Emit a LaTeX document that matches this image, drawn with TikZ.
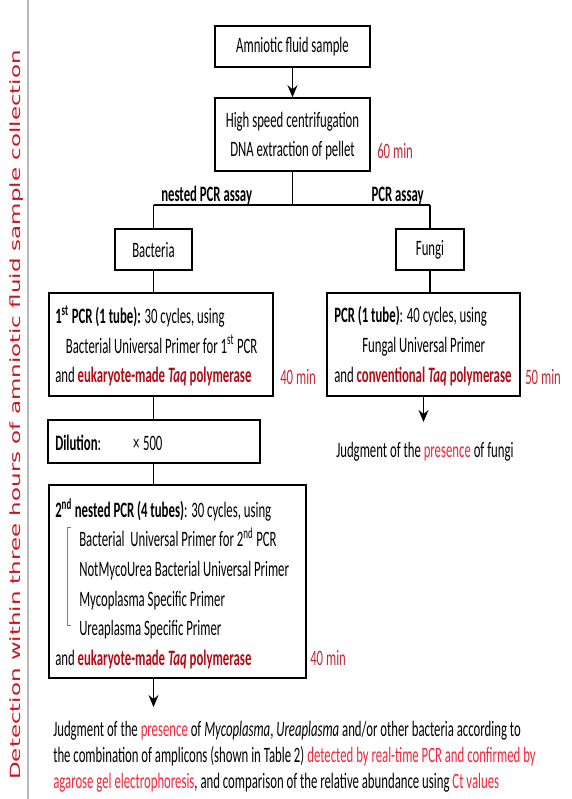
\documentclass[tikz,border=0pt]{standalone}
\usepackage{fontspec}
\setmainfont[FakeStretch=0.58]{Carlito}
\newfontfamily\sidefont{DejaVu Sans}
\usepackage{xcolor}
\definecolor{ColTime}{RGB}{200,40,50}
\definecolor{ColBold}{RGB}{180,10,20}
\definecolor{ColRed}{RGB}{250,35,55}
\definecolor{ColSide}{RGB}{205,20,30}
\usepackage{tikz}
\usetikzlibrary{arrows.meta}
\tikzstyle{Box}=[draw=black,line width=1.2pt,inner sep=0pt,
minimum width=1pt,minimum height=1pt]
\tikzstyle{Txt}=[inner sep=0pt,font=\fontsize{16.5}{22.2}\selectfont,
align=left]
\tikzstyle{Time}=[Txt,anchor=west,text=ColTime]
\tikzstyle{Edge}=[draw=black,line width=1.2pt]
\tikzstyle{Arrow}=[Edge,-{Stealth[length=9pt,width=7.5pt,inset=3pt]}]
\newcommand{\hot}[1]{\textcolor{ColBold}{\textbf{#1}}}
\newcommand{\red}[1]{\textcolor{ColRed}{#1}}

\begin{document}
\begin{tikzpicture}[x=0.75pt,y=-0.75pt]
        \useasboundingbox(0,0)rectangle(571,799);
        \draw[gray!55,line width=1.3pt](28,0)--(28,799);
        \node[rotate=90,inner sep=0pt](side)at(17,415)
            {\resizebox{547pt}{8pt}{\sidefont\textcolor{ColSide}
            {Detection within three hours of amniotic fluid sample collection}}};
        \node[Box,minimum width=155*0.75pt,minimum height=41*0.75pt](sample)
            at(292.5,46.5){};
        \node[Txt,align=center](sampleT)at(292.5,47){Amniotic fluid sample};
        \node[Box,minimum width=155*0.75pt,minimum height=73*0.75pt](extract)
            at(292.5,134.5){};
        \node[Txt,align=center](extractT)at(292.5,136)
            {High speed centrifugation\\DNA extraction of pellet};
        \node[Time](t1)at(377,151){60 min};
        \coordinate(split)at(292.5,205);
        \coordinate(left)at(153.5,205);
        \coordinate(right)at(430,205);
        \node[Txt,anchor=base west,font=\fontsize{16.5}{20}\selectfont\bfseries]
            (nested)at(161,201){nested PCR assay};
        \node[Txt,anchor=base east,font=\fontsize{16.5}{20}\selectfont\bfseries]
            (plain)at(424,201){PCR assay};
        \node[Box,minimum width=77*0.75pt,minimum height=41*0.75pt](bact)
            at(153.5,249.5){};
        \node[Txt](bactT)at(153.5,250){Bacteria};
        \node[Box,minimum width=68*0.75pt,minimum height=41*0.75pt](fungi)
            at(430,249.5){};
        \node[Txt](fungiT)at(430,250){Fungi};
        \node[Box,minimum width=224*0.75pt,minimum height=103*0.75pt](pcr1)
            at(161,344.5){};
        \node[Txt,anchor=west](pcr1T)at(55,346)
            {\textbf{1\textsuperscript{st} PCR (1 tube):} 30 cycles, using\\
            \hspace{8pt}Bacterial Universal Primer for 1\textsuperscript{st} PCR\\
            and \hot{eukaryote-made \textit{Taq} polymerase}};
        \node[Time](t2)at(280,377){40 min};
        \node[Box,minimum width=193*0.75pt,minimum height=103*0.75pt](pcrF)
            at(423.5,344.5){};
        \node[Txt,anchor=west](pcrFT)at(334,346)
            {\textbf{PCR (1 tube)}: 40 cycles, using\\
            \hspace{21pt}Fungal Universal Primer\\
            and \hot{conventional \textit{Taq} polymerase}};
        \node[Time](t3)at(525,377){50 min};
        \node[Txt,anchor=west](judgeF)at(336,452)
            {Judgment of the \red{presence} of fungi};
        \coordinate(fungiEnd)at(423.5,422);
        \node[Box,minimum width=212*0.75pt,minimum height=43*0.75pt](dil)
            at(154,441.5){};
        \node[Txt,anchor=west](dilT)at(55,443)
            {\textbf{Dilution}:\hspace{24pt}×\,500};
        \node[Box,minimum width=257*0.75pt,minimum height=193*0.75pt](pcr2)
            at(177.5,581.5){};
        \node[Txt,anchor=west](pcr2T)at(55,583.5)
            {\textbf{2\textsuperscript{nd} nested PCR (4 tubes)}: 30 cycles, using\\
            \hspace{18pt}Bacterial\ \ Universal Primer for 2\textsuperscript{nd} PCR\\
            \hspace{18pt}NotMycoUrea Bacterial Universal Primer\\
            \hspace{18pt}Mycoplasma Specific Primer\\
            \hspace{18pt}Ureaplasma Specific Primer\\
            and \hot{eukaryote-made \textit{Taq} polymerase}};
        \draw[gray,line width=0.7pt](71,527)--(67,527)--(67,625)--(71,625);
        \node[Time](t4)at(310,658){40 min};
        \coordinate(bactEnd)at(153.5,707);
        \node[Txt,anchor=north west,font=\fontsize{16.5}{19.5}\selectfont]
            (judgeB)at(53,721)
            {Judgment of the \red{presence} of \textit{Mycoplasma},
            \textit{Ureaplasma} and/or other bacteria according to\\
            the combination of amplicons (shown in Table 2)
            \red{detected by real-time PCR and confirmed by}\\
            \red{agarose gel electrophoresis}, and comparison of the relative
            abundance using \red{Ct values}};
        \draw[Arrow](sample)--(extract);
        \draw[Edge](extract)--(split);
        \draw[Edge](left)--(right);
        \draw[Edge](left)--(bact);
        \draw[Edge](right)--(fungi);
        \draw[Edge](bact)--(pcr1.north-|bact);
        \draw[Edge](fungi)--(pcrF.north-|fungi);
        \draw[Edge](pcr1.south-|bact)--(dil.north-|bact);
        \draw[Edge](dil.south-|bact)--(pcr2.north-|bact);
        \draw[Arrow](pcr2.south-|bact)--(bactEnd);
        \draw[Arrow](pcrF.south-|fungiEnd)--(fungiEnd);
    \end{tikzpicture}
\end{document}
